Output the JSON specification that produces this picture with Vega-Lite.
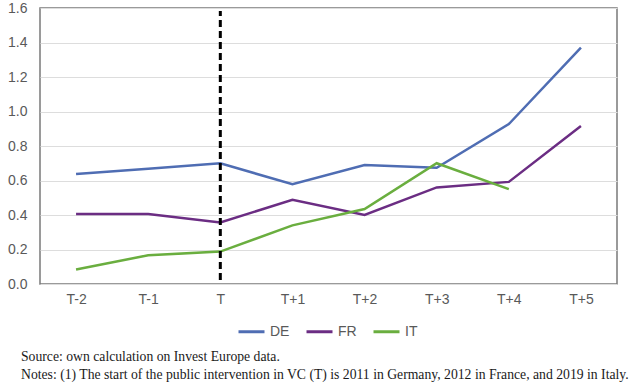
{
  "$schema": "https://vega.github.io/schema/vega-lite/v6.json",
  "autosize": "none",
  "width": 577,
  "height": 276,
  "padding": {"left": 40, "top": 8, "right": 17, "bottom": 101},
  "background": "white",
  "config": {
    "view": {"stroke": "#7a7a7a", "strokeWidth": 1.5},
    "axis": {"labelFont": "Liberation Sans", "labelFontSize": 14, "labelColor": "#595959", "domain": false, "ticks": false, "gridColor": "#dddddd", "gridWidth": 1.2, "labelOverlap": false}
  },
  "title": {
    "text": "Source: own calculation on Invest Europe data.",
    "subtitle": "Notes: (1) The start of the public intervention in VC (T) is 2011 in Germany, 2012 in France, and 2019 in Italy.",
    "orient": "bottom",
    "anchor": "start",
    "frame": "group",
    "dx": -19,
    "offset": 11,
    "font": "Liberation Serif",
    "fontSize": 13.7,
    "fontWeight": "normal",
    "color": "#1a1a1a",
    "subtitleFont": "Liberation Serif",
    "subtitleFontSize": 13.7,
    "subtitleColor": "#1a1a1a",
    "subtitlePadding": 4
  },
  "datasets": {
    "series": [
      {"t": "T-2", "country": "DE", "v": 0.637},
      {"t": "T-1", "country": "DE", "v": 0.668},
      {"t": "T", "country": "DE", "v": 0.70},
      {"t": "T+1", "country": "DE", "v": 0.578},
      {"t": "T+2", "country": "DE", "v": 0.69},
      {"t": "T+3", "country": "DE", "v": 0.674},
      {"t": "T+4", "country": "DE", "v": 0.927},
      {"t": "T+5", "country": "DE", "v": 1.37},
      {"t": "T-2", "country": "FR", "v": 0.406},
      {"t": "T-1", "country": "FR", "v": 0.406},
      {"t": "T", "country": "FR", "v": 0.357},
      {"t": "T+1", "country": "FR", "v": 0.488},
      {"t": "T+2", "country": "FR", "v": 0.40},
      {"t": "T+3", "country": "FR", "v": 0.56},
      {"t": "T+4", "country": "FR", "v": 0.592},
      {"t": "T+5", "country": "FR", "v": 0.916},
      {"t": "T-2", "country": "IT", "v": 0.084},
      {"t": "T-1", "country": "IT", "v": 0.166},
      {"t": "T", "country": "IT", "v": 0.188},
      {"t": "T+1", "country": "IT", "v": 0.34},
      {"t": "T+2", "country": "IT", "v": 0.435},
      {"t": "T+3", "country": "IT", "v": 0.70},
      {"t": "T+4", "country": "IT", "v": 0.55}
    ],
    "marker": [
      {"t": "T", "lo": 0.023, "hi": 1.583}
    ]
  },
  "layer": [
    {
      "data": {"name": "series"},
      "mark": {"type": "line", "strokeWidth": 2.5},
      "encoding": {
        "x": {"field": "t", "type": "ordinal", "sort": ["T-2","T-1","T","T+1","T+2","T+3","T+4","T+5"], "scale": {"type": "point", "padding": 0.5}, "axis": {"title": null, "labelAngle": 0, "labelPadding": 8, "grid": false}},
        "y": {"field": "v", "type": "quantitative", "scale": {"domain": [0, 1.6], "nice": false}, "axis": {"title": null, "values": [0,0.2,0.4,0.6,0.8,1.0,1.2,1.4,1.6], "format": ".1f", "labelPadding": 13}},
        "color": {"field": "country", "type": "nominal", "scale": {"domain": ["DE","FR","IT"], "range": ["#4f6db3", "#6b2d83", "#6aae3f"]},
          "legend": {"title": null, "orient": "none", "legendX": 197, "legendY": 309, "direction": "horizontal", "symbolType": "stroke", "symbolSize": 676, "symbolStrokeWidth": 3, "labelFont": "Liberation Sans", "labelFontSize": 14, "labelColor": "#595959", "labelOffset": 4, "columnPadding": 10}}
      }
    },
    {
      "data": {"name": "marker"},
      "mark": {"type": "rule", "color": "black", "strokeWidth": 3, "strokeDash": [7, 4]},
      "encoding": {
        "x": {"field": "t", "type": "ordinal", "sort": ["T-2","T-1","T","T+1","T+2","T+3","T+4","T+5"], "axis": {"title": null, "labelAngle": 0, "labelPadding": 8, "grid": false}},
        "y": {"field": "lo", "type": "quantitative", "axis": {"title": null, "values": [0,0.2,0.4,0.6,0.8,1.0,1.2,1.4,1.6], "format": ".1f", "labelPadding": 13}},
        "y2": {"field": "hi"}
      }
    }
  ]
}
